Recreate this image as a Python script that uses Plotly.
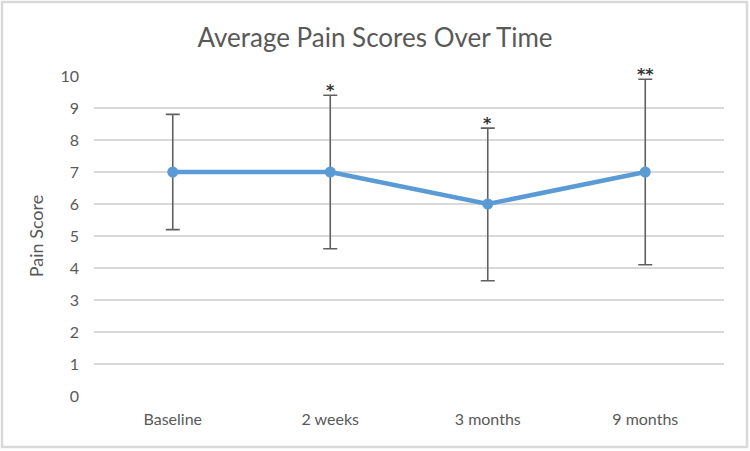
import plotly.graph_objects as go

categories = ["Baseline", "2 weeks", "3 months", "9 months"]
mean_scores = [7, 7, 6, 7]
error_plus = [1.8, 2.4, 2.37, 2.9]
error_minus = [1.8, 2.4, 2.4, 2.9]
significance = ["", "*", "*", "**"]
y_ticks = list(range(0, 11))

FONT = "Lato, Open Sans, sans-serif"
GRAY = "#595959"

fig = go.Figure()
fig.add_trace(go.Scatter(
    x=categories, y=mean_scores, mode="lines+markers",
    line=dict(color="#5B9BD5", width=4.5),
    marker=dict(color="#5B9BD5", size=11),
    error_y=dict(type="data", symmetric=False, array=error_plus, arrayminus=error_minus,
                 color="#606060", thickness=1.6, width=7),
    showlegend=False, hoverinfo="skip",
))

for c, m, e, s in zip(categories, mean_scores, error_plus, significance):
    if s:
        fig.add_annotation(x=c, y=m + e, text="<b>" + s + "</b>", showarrow=False, yanchor="bottom",
                           yshift=-7, font=dict(family="DejaVu Sans", size=16, color="#333333"))

fig.update_layout(
    width=750, height=451,
    margin=dict(l=94, r=26, t=76, b=55),
    paper_bgcolor="white", plot_bgcolor="white",
    title=dict(text="Average Pain Scores Over Time", x=0.5, xanchor="center",
               y=1 - 38 / 451, yanchor="middle",
               font=dict(family=FONT, size=26, color=GRAY)),
    xaxis=dict(showgrid=False, showline=False, zeroline=False,
               tickfont=dict(family=FONT, size=16, color=GRAY),
               ticklabelstandoff=12, range=[-0.5, 3.5]),
    yaxis=dict(range=[0, 10], tickvals=y_ticks, showgrid=True, gridcolor="#D9D9D9",
               gridwidth=1.5, zeroline=False, showline=False,
               tickfont=dict(family=FONT, size=16, color=GRAY),
               ticklabelstandoff=14,
               title=dict(text="Pain Score", font=dict(family=FONT, size=18, color=GRAY),
                          standoff=12)),
    shapes=[dict(type="rect", xref="paper", yref="paper",
                 x0=(2 - 94) / 630, x1=(747 - 94) / 630,
                 y0=(396 - 447) / 320, y1=(396 - 2) / 320,
                 line=dict(color="#D9D9D9", width=2.5), layer="below")],
)
fig.write_html("out.html")
